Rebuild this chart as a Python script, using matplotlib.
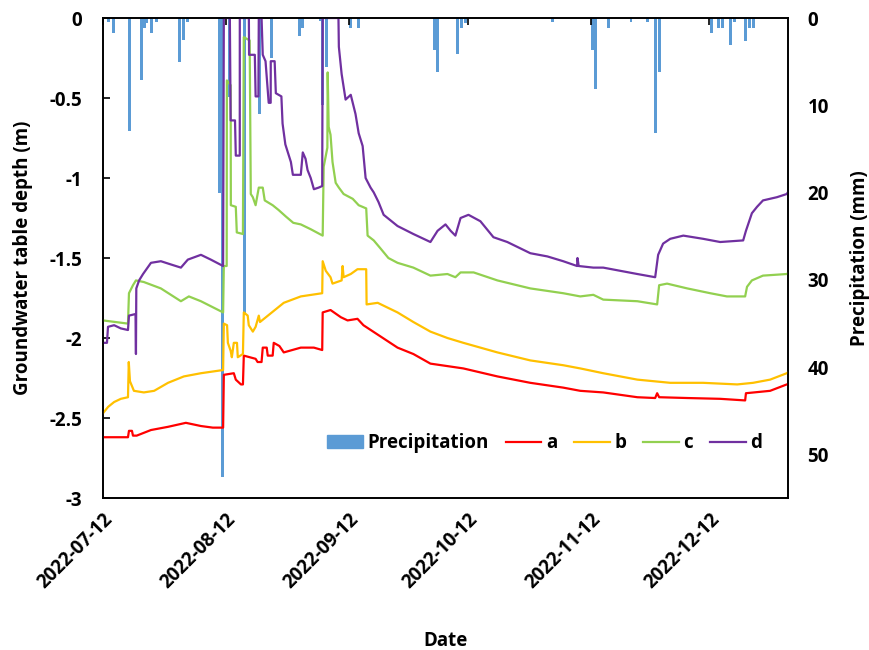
import numpy as np
import pandas as pd
import matplotlib
matplotlib.use('Agg')
import matplotlib.pyplot as plt
import matplotlib.dates as mdates
from matplotlib.patches import Patch
from matplotlib.lines import Line2D

plt.rcParams['font.family'] = ['Open Sans', 'DejaVu Sans']
plt.rcParams['font.weight'] = 'bold'
plt.rcParams['axes.unicode_minus'] = False

start = pd.Timestamp('2022-07-12')

#%% data (x = days after 2022-07-12)
rain_day = [1.3, 2.6, 6.8, 9.6, 10.4, 11.0, 12.3, 13.6, 19.4, 20.4, 21.4,
            29.4, 30.2, 32.0, 35.7, 39.5, 42.6, 49.6, 50.4, 54.9, 55.4, 56.3,
            62.5, 64.5, 83.6, 84.4, 89.4, 90.4, 91.4, 113.4, 123.4, 124.2,
            127.5, 133.2, 137.3, 139.5, 140.3, 153.4, 155.2, 156.2, 158.2,
            159.4, 162.2, 163.2, 164.2]
rain_mm = [0.5, 1.7, 13.0, 7.1, 1.1, 0.6, 1.7, 0.5, 5.0, 2.5, 0.5,
           20.0, 52.6, 9.0, 34.0, 11.0, 4.6, 2.1, 1.1, 0.4, 10.0, 5.6,
           1.1, 1.1, 3.7, 6.2, 4.1, 1.1, 0.6, 0.5, 3.7, 8.1,
           1.1, 0.5, 0.5, 13.2, 6.2, 1.7, 1.2, 1.2, 3.1,
           0.5, 2.6, 1.2, 1.2]

a_day = [0, 6.3, 6.55, 7.3, 7.56, 8.5, 12.1, 16.4, 20.9, 24.7, 27.7, 30.3,
         30.48, 33.0, 33.5, 34.8, 35.3, 35.52, 38.5, 39.0, 40.0, 40.3, 41.3,
         41.56, 42.8, 43.07, 44.5, 45.6, 49.9, 53.2, 55.3, 55.42, 57.4, 60.0,
         61.7, 64.2, 65.7, 70.0, 74.3, 78.3, 82.6, 90.9, 99.5, 107.8, 116.1,
         120.4, 126.2, 134.8, 139.3, 139.8, 140.3, 147.4, 155.7, 162.0, 162.2,
         168.3, 172.5, 173.0]
a_val = [-2.62, -2.62, -2.58, -2.58, -2.61, -2.61, -2.575, -2.555, -2.53,
         -2.55, -2.56, -2.56, -2.23, -2.22, -2.26, -2.29, -2.29, -2.11, -2.13,
         -2.15, -2.15, -2.06, -2.06, -2.11, -2.11, -2.03, -2.05, -2.09, -2.06,
         -2.06, -2.075, -1.84, -1.825, -1.87, -1.89, -1.88, -1.92, -1.99,
         -2.06, -2.10, -2.16, -2.19, -2.24, -2.28, -2.31, -2.33, -2.34, -2.37,
         -2.375, -2.345, -2.37, -2.375, -2.38, -2.39, -2.345, -2.33, -2.29,
         -2.29]

b_day = [0, 1.3, 2.8, 4.5, 6.3, 6.5, 6.8, 7.8, 10.3, 12.9, 16.4, 20.4, 24.7,
         30.3, 30.48, 31.3, 31.5, 32.2, 32.5, 33.0, 33.8, 34.0, 35.3, 35.52,
         36.5, 36.78, 37.8, 38.5, 39.3, 39.6, 41.6, 45.6, 49.9, 55.3, 55.42,
         56.2, 57.4, 57.9, 60.2, 60.45, 60.7, 62.5, 64.2, 66.4, 66.5, 69.3,
         74.3, 78.3, 82.6, 86.9, 90.9, 99.5, 107.8, 116.1, 120.4, 126.2, 134.8,
         143.1, 151.4, 160.0, 164.0, 168.3, 172.5, 173.0]
b_val = [-2.47, -2.43, -2.40, -2.38, -2.37, -2.15, -2.27, -2.33, -2.34, -2.33,
         -2.28, -2.24, -2.22, -2.20, -1.91, -1.92, -2.03, -2.08, -2.12, -2.03,
         -2.03, -2.12, -2.10, -1.84, -1.86, -1.92, -1.96, -1.93, -1.86, -1.90,
         -1.86, -1.78, -1.74, -1.72, -1.52, -1.58, -1.62, -1.66, -1.64, -1.55,
         -1.62, -1.60, -1.57, -1.57, -1.79, -1.78, -1.84, -1.90, -1.96, -2.00,
         -2.03, -2.09, -2.14, -2.17, -2.19, -2.22, -2.26, -2.28, -2.28, -2.29,
         -2.28, -2.26, -2.22, -2.21]

c_day = [0, 6.3, 6.55, 7.56, 8.3, 10.3, 14.6, 19.65, 21.66, 24.7, 30.3, 30.48,
         31.2, 31.25, 32.2, 32.25, 33.5, 33.75, 35.3, 35.52, 37.0, 37.28, 37.8,
         38.5, 39.3, 40.3, 40.8, 42.8, 44.3, 46.1, 48.0, 49.9, 52.4, 55.42,
         55.67, 56.6, 56.68, 56.93, 57.4, 57.9, 58.7, 59.5, 60.7, 63.0, 64.5,
         66.4, 66.75, 68.3, 70.0, 72.0, 74.3, 78.3, 82.6, 86.9, 88.9, 90.2,
         93.5, 99.5, 107.8, 116.1, 120.4, 123.7, 126.2, 134.8, 139.8, 140.3,
         142.3, 147.4, 153.2, 157.4, 162.0, 162.47, 163.7, 166.5, 172.5, 173.0]
c_val = [-1.89, -1.91, -1.72, -1.67, -1.64, -1.65, -1.69, -1.77, -1.74, -1.77,
         -1.84, -1.55, -1.55, -0.39, -0.42, -1.17, -1.18, -1.34, -1.35, -0.12,
         -0.14, -1.10, -1.12, -1.17, -1.06, -1.06, -1.14, -1.17, -1.20, -1.24,
         -1.28, -1.29, -1.32, -1.36, -0.93, -0.81, -0.34, -0.68, -0.73, -0.90,
         -1.03, -1.06, -1.10, -1.13, -1.17, -1.19, -1.36, -1.39, -1.44, -1.50,
         -1.53, -1.56, -1.61, -1.60, -1.62, -1.59, -1.59, -1.64, -1.69, -1.72,
         -1.74, -1.73, -1.76, -1.77, -1.79, -1.67, -1.66, -1.69, -1.72, -1.74,
         -1.74, -1.68, -1.64, -1.61, -1.60, -1.59]

d_day = [0, 1.0, 1.26, 2.8, 4.5, 6.3, 6.55, 8.2, 8.31, 8.4, 9.1, 10.1, 12.1,
         14.6, 17.1, 19.65, 21.4, 24.7, 27.2, 30.3, 30.48, 32.0, 32.2, 33.3,
         33.5, 34.5, 34.51, 36.8, 36.85, 38.3, 38.5, 39.2, 39.3, 40.0, 40.3,
         41.0, 41.8, 42.3, 42.32, 43.3, 43.6, 45.0, 45.3, 46.0, 47.4, 47.9,
         49.9, 50.4, 51.1, 51.6, 52.4, 53.2, 54.4, 55.3, 55.42, 59.4, 59.5,
         60.2, 61.2, 62.5, 63.7, 64.5, 65.5, 66.25, 67.5, 68.3, 69.5, 70.8,
         74.3, 78.3, 82.6, 84.4, 86.4, 87.7, 88.9, 90.2, 92.2, 95.2, 98.5,
         102.0, 107.8, 112.1, 116.1, 119.6, 119.7, 120.0, 123.7, 126.2, 130.5,
         134.8, 139.3, 140.05, 141.3, 143.1, 146.4, 151.4, 155.7, 161.5, 162.2,
         163.7, 165.0, 166.5, 170.0, 172.5, 173.0]
d_val = [-2.03, -2.03, -1.93, -1.92, -1.94, -1.95, -1.86, -1.85, -2.10, -1.69,
         -1.64, -1.60, -1.53, -1.52, -1.54, -1.56, -1.51, -1.48, -1.51, -1.55,
         0.0, 0.0, -0.64, -0.64, -0.86, -0.86, 0.0, 0.0, -0.23, -0.23, -0.49,
         -0.49, 0.0, 0.0, -0.23, -0.27, -0.53, -0.53, -0.27, -0.27, -0.47,
         -0.49, -0.66, -0.79, -0.90, -0.98, -0.98, -0.84, -0.88, -0.95, -1.00,
         -1.07, -1.06, -1.05, 0.0, 0.0, -0.18, -0.35, -0.51, -0.48, -0.60,
         -0.72, -0.80, -1.00, -1.06, -1.09, -1.15, -1.23, -1.30, -1.35, -1.40,
         -1.33, -1.29, -1.33, -1.36, -1.25, -1.23, -1.27, -1.37, -1.40, -1.47,
         -1.49, -1.52, -1.55, -1.50, -1.55, -1.56, -1.56, -1.58, -1.60, -1.62,
         -1.48, -1.41, -1.38, -1.36, -1.38, -1.40, -1.39, -1.33, -1.22, -1.18,
         -1.14, -1.12, -1.10, -1.08]

tick_dates = ['2022-07-12', '2022-08-12', '2022-09-12', '2022-10-12',
              '2022-11-12', '2022-12-12']

series = [('a', a_day, a_val, '#FF0000'),
          ('b', b_day, b_val, '#FFC000'),
          ('c', c_day, c_val, '#92D050'),
          ('d', d_day, d_val, '#7030A0')]


def to_date(days):
    return start + pd.to_timedelta(np.array(days), unit='D')


#%% plotting
fs = 13.5
fig = plt.figure(figsize=(8.7, 6.5), dpi=100)
ax = fig.add_axes([0.1184, 0.2338, 0.7873, 0.7385])
ax2 = ax.twinx()
ax.set_zorder(ax2.get_zorder() + 1)
ax.patch.set_visible(False)

ax2.bar(to_date(rain_day), rain_mm, width=0.75, color='#5B9BD5')
ax2.set_ylim(55, 0)
ax2.set_yticks(np.arange(0, 51, 10))
ax2.tick_params(axis='y', length=0, pad=14, labelsize=fs)
ax2.set_ylabel('Precipitation (mm)', fontsize=fs, fontweight='bold', labelpad=15)

for name, dd, vv, col in series:
    ax.plot(to_date(dd), vv, color=col, lw=1.6, label=name)

ax.set_ylim(-3, 0)
ax.set_yticks(np.arange(-3, 0.01, 0.5))
ax.yaxis.set_major_formatter(plt.FuncFormatter(lambda v, p: '%g' % v))
ax.tick_params(axis='y', direction='in', length=5, width=1.2, pad=15, labelsize=fs)

ax.set_xlim(start, start + pd.Timedelta(days=172.8))
ax.set_xticks(pd.to_datetime(tick_dates))
ax.xaxis.set_major_formatter(mdates.DateFormatter('%Y-%m-%d'))
ax.tick_params(axis='x', bottom=False, top=True, direction='in', length=5,
               width=1.2, labelbottom=True, labeltop=False, labelsize=fs, pad=8)
plt.setp(ax.get_xticklabels(), rotation=45, ha='right', rotation_mode='anchor')

for sp in ax.spines.values():
    sp.set_linewidth(1.2)
for sp in ax2.spines.values():
    sp.set_linewidth(1.2)

ax.set_ylabel('Groundwater table depth (m)', fontsize=fs, fontweight='bold', labelpad=12)
ax.set_xlabel('Date', fontsize=fs, fontweight='bold', labelpad=28)

handles = [Patch(color='#5B9BD5', label='Precipitation')]
handles += [Line2D([], [], color=c, lw=1.6, label=n) for n, _, _, c in series]
ax.legend(handles=handles, loc='center', bbox_to_anchor=(0.626, 0.318),
          bbox_transform=fig.transFigure, ncol=5, frameon=False, fontsize=fs,
          handlelength=1.9, handletextpad=0.25, columnspacing=0.9)

fig.savefig('out.png', dpi=100)
